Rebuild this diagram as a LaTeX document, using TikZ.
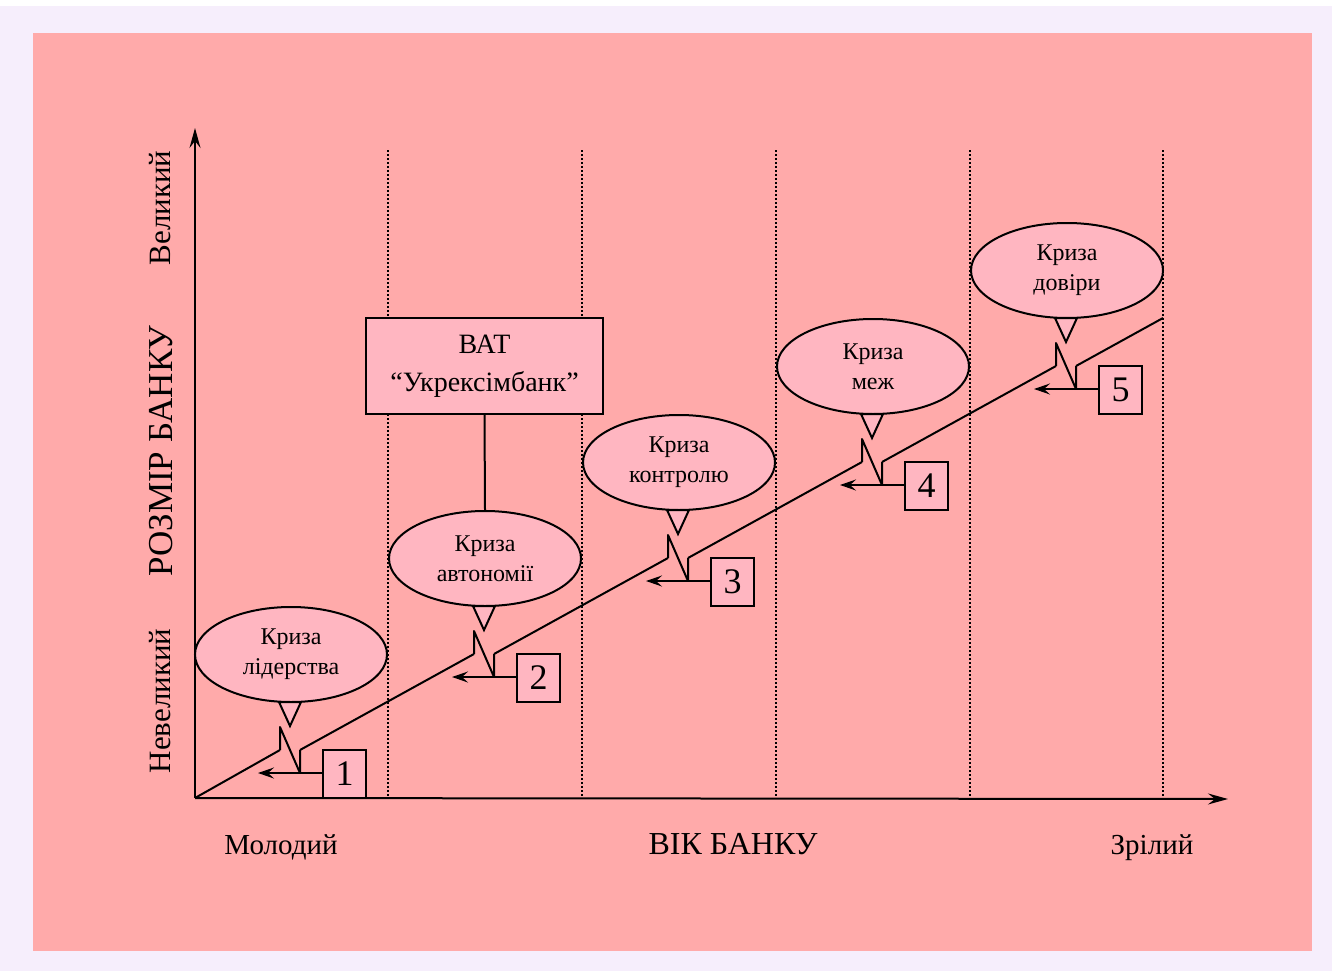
\documentclass[tikz,border=0pt]{standalone}
\usepackage{fontspec}
\setmainfont{Liberation Serif}
\usetikzlibrary{shapes.geometric,arrows.meta}
\definecolor{outerbg}{RGB}{246,238,252}
\definecolor{panel}{RGB}{255,170,170}
\definecolor{shapefill}{RGB}{255,182,193}
\tikzset{
  ln/.style={line width=2pt, black, line join=round},
  gridline/.style={line width=1.8pt, black, dash pattern=on 1.8pt off 2.2pt},
  bubble/.style={ellipse, draw, line width=2pt, fill=shapefill, minimum width=192pt, minimum height=95pt, inner sep=0pt, align=center, font=\fontsize{24}{30}\selectfont},
  numbox/.style={draw, line width=2pt, fill=shapefill, minimum width=43pt, minimum height=48pt, inner sep=0pt, font=\fontsize{36}{36}\selectfont},
  ptr/.style={draw, line width=2pt, fill=shapefill, line join=miter},
  batbox/.style={draw, line width=2pt, fill=shapefill, minimum width=237pt, minimum height=96pt, inner sep=0pt, align=center, font=\fontsize{28}{38}\selectfont},
  ticklab/.style={font=\fontsize{29}{29}\selectfont, inner sep=0pt, anchor=base},
  vlab/.style={font=\fontsize{31}{31}\selectfont, inner sep=0pt, anchor=base, rotate=90},
  axtitle/.style={font=\fontsize{32}{32}\selectfont, inner sep=0pt, anchor=base},
  axarrow/.style={-{Stealth[length=20pt,width=11pt,inset=7pt]}},
  smallarrow/.style={-{Stealth[length=16pt,width=11pt,inset=6pt]}},
}
\begin{document}
\begin{tikzpicture}[x=1pt,y=-1pt]
\useasboundingbox (0,0) rectangle (1332,971);
% backgrounds
\fill[outerbg] (0,0) rectangle (1332,971);
\fill[white] (0,0) rectangle (1332,6);
\fill[panel] (33,33) rectangle (1312,951);
% dotted grid
\foreach \gx in {388,582,776,970,1163}{
  \draw[gridline] (\gx,150) -- (\gx,798);
}
% axes
\coordinate (O) at (195,798);
\coordinate (ytip) at (195,128);
\coordinate (xtip) at (1228,799);
\draw[ln, axarrow] (O) -- (ytip);
\draw[ln, axarrow] (O) -- (xtip);
% axis labels
\node[vlab] (small) at (170,701) {Невеликий};
\node[vlab, font=\fontsize{35}{35}\selectfont] (size) at (172,451) {РОЗМІР БАНКУ};
\node[vlab] (big) at (170,208) {Великий};
\node[ticklab] (young) at (281,854) {Молодий};
\node[axtitle] (age) at (733,854) {ВІК БАНКУ};
\node[ticklab] (mature) at (1152,854) {Зрілий};
% crises
\foreach \k/\n/\lab in {0/1/лідерства,1/2/автономії,2/3/контролю,3/4/меж,4/5/довіри}{
  \pgfmathsetmacro{\dx}{194*\k}
  \pgfmathsetmacro{\dy}{96*\k}
  \coordinate (A\n) at (280+\dx,750-\dy);
  \coordinate (B\n) at (280+\dx,727-\dy);
  \coordinate (C\n) at (300+\dx,773-\dy);
  \coordinate (D\n) at (300+\dx,750-\dy);
  \coordinate (L\n) at (258+\dx,773-\dy);
  \node[bubble] (e\n) at (291+\dx,654.5-\dy) {Криза\\\lab};
  \draw[ptr] (279+\dx,702-\dy) -- (290+\dx,726-\dy) -- (301+\dx,702-\dy) -- cycle;
  \node[numbox] (b\n) at (344.5+\dx,774-\dy) {\n};
  \draw[ln] (A\n) -- (B\n) -- (C\n) -- (D\n);
  \draw[ln] (C\n) -- (C\n -| b\n.west);
  \draw[ln, smallarrow] (C\n) -- (L\n);
}
\coordinate (end) at (1163,318);
\draw[ln] (O) -- (A1);
\draw[ln] (D1) -- (A2);
\draw[ln] (D2) -- (A3);
\draw[ln] (D3) -- (A4);
\draw[ln] (D4) -- (A5);
\draw[ln] (D5) -- (end);
% bank box
\node[batbox] (bat) at (484.5,366) {ВАТ\\“Укрексімбанк”};
\draw[ln] (bat.south) -- (e2.north);
\end{tikzpicture}
\end{document}
